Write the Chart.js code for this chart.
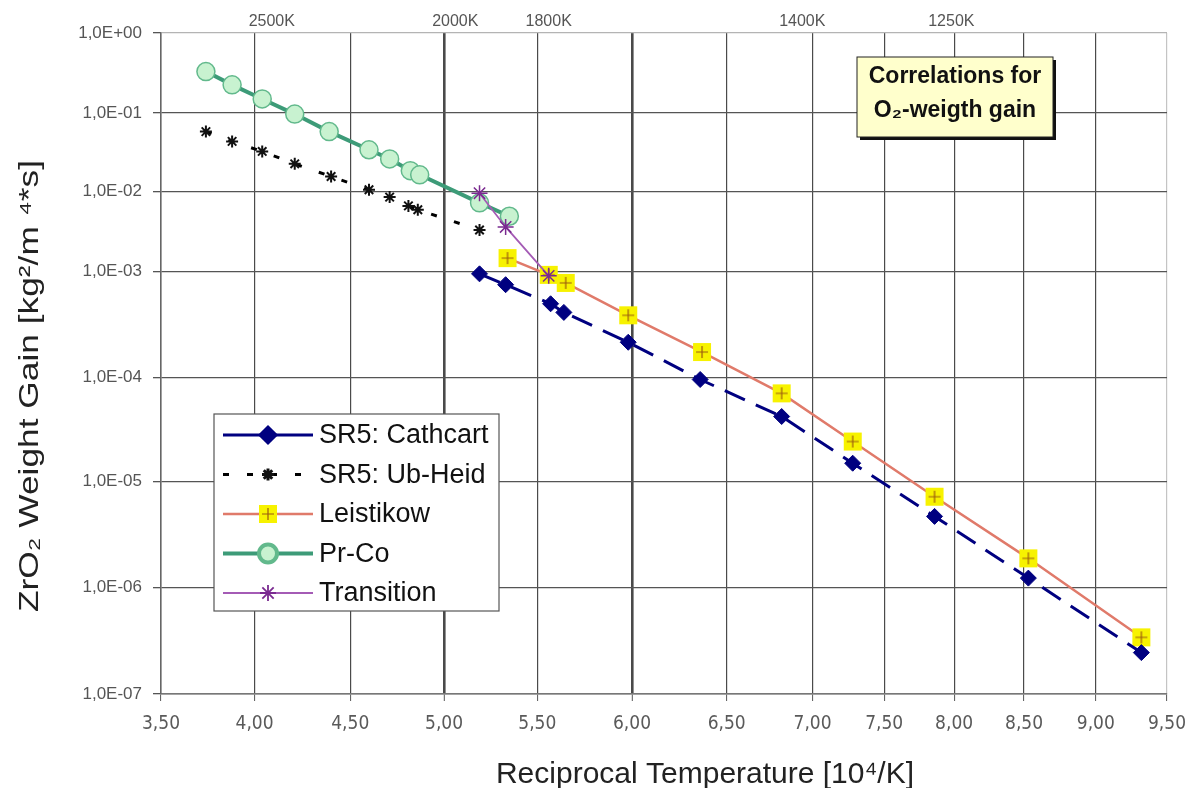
<!DOCTYPE html>
<html>
<head>
<meta charset="utf-8">
<title>ZrO2 weight gain correlations</title>
<script src="https://cdn.jsdelivr.net/npm/chart.js@4.4.0/dist/chart.umd.min.js"></script>
<style>
  html, body { margin: 0; padding: 0; background: #fff; }
  #wrap { width: 1185px; height: 788px; }
</style>
</head>
<body>
<div id="wrap"><canvas id="gainChart" width="1185" height="788"></canvas></div>
<script>
// --- axis ticks ---
const xTickValues = [3.5, 4.0, 4.5, 5.0, 5.5, 6.0, 6.5, 7.0, 7.5, 8.0, 8.5, 9.0, 9.5];
const xTickLabels = ['3,50', '4,00', '4,50', '5,00', '5,50', '6,00', '6,50', '7,00', '7,50', '8,00', '8,50', '9,00', '9,50'];
const yTickValues = [1e-7, 1e-6, 1e-5, 1e-4, 1e-3, 1e-2, 1e-1, 1];
const yTickLabels = ['1,0E-07', '1,0E-06', '1,0E-05', '1,0E-04', '1,0E-03', '1,0E-02', '1,0E-01', '1,0E+00'];
const topTickValues = [4.09, 5.06, 5.56, 6.94, 7.98];
const topTickLabels = ['2500K', '2000K', '1800K', '1400K', '1250K'];

const xTitle = 'Reciprocal Temperature [10⁴/K]';
const yTitle = 'ZrO₂ Weight Gain [kg²/m ⁴*s]';

// --- series (x = 10^4/K, y = kg²/m⁴s) ---
const cathcartX = [5.19, 5.33, 5.57, 5.64, 5.98, 6.36, 6.82, 7.28, 7.86, 8.53, 9.32];
const cathcartY = [9.5e-4, 7.5e-4, 4.95e-4, 4.1e-4, 2.14e-4, 9.5e-5, 4.2e-5, 1.5e-5, 4.7e-6, 1.23e-6, 2.45e-7];

const ubHeidX = [3.74, 3.88, 4.04, 4.21, 4.40, 4.60, 4.71, 4.81, 4.86, 5.19];
const ubHeidY = [0.058, 0.0435, 0.0324, 0.0225, 0.0155, 0.0105, 0.0085, 0.0066, 0.0059, 0.0033];

const leistikowX = [5.34, 5.56, 5.65, 5.98, 6.37, 6.82, 7.28, 7.86, 8.53, 9.32];
const leistikowY = [1.47e-3, 9.3e-4, 7.8e-4, 3.85e-4, 1.73e-4, 7.0e-5, 2.42e-5, 7.2e-6, 1.89e-6, 3.41e-7];

const prCoX = [3.74, 3.88, 4.04, 4.21, 4.39, 4.60, 4.71, 4.82, 4.87, 5.19, 5.35];
const prCoY = [0.33, 0.225, 0.15, 0.097, 0.058, 0.034, 0.026, 0.0184, 0.0163, 0.0072, 0.0049];

const transitionX = [5.19, 5.33, 5.56];
const transitionY = [9.5e-3, 3.6e-3, 9.1e-4];

// The printed grid of the original figure is not evenly spaced:
// where each tick sits, as a fraction of the plot width / height.
const xGridFrac = [0, 0.0930, 0.1881, 0.2814, 0.3741, 0.4682, 0.5623, 0.6477, 0.7189, 0.7884, 0.8579, 0.9292, 1];
const yGridFrac = [0, 0.1609, 0.3213, 0.4793, 0.6392, 0.7603, 0.8789, 1];
const yTickLogs = yTickValues.map(v => Math.log10(v));

function toFrac(v, knots, fracs) {
  let i = 0;
  while (i < knots.length - 2 && v > knots[i + 1]) i++;
  const t = (v - knots[i]) / (knots[i + 1] - knots[i]);
  return fracs[i] + t * (fracs[i + 1] - fracs[i]);
}
function fromFrac(d, knots, fracs) {
  let i = 0;
  while (i < fracs.length - 2 && d > fracs[i + 1]) i++;
  const t = (d - fracs[i]) / (fracs[i + 1] - fracs[i]);
  return knots[i] + t * (knots[i + 1] - knots[i]);
}

class GridLinearScale extends Chart.LinearScale {
  getPixelForValue(value) {
    if (value === null || value === undefined) return NaN;
    return this.getPixelForDecimal(toFrac(value, xTickValues, xGridFrac));
  }
  getValueForPixel(pixel) {
    return fromFrac(this.getDecimalForPixel(pixel), xTickValues, xGridFrac);
  }
}
GridLinearScale.id = 'gridLinear';

class GridLogScale extends Chart.LogarithmicScale {
  getPixelForValue(value) {
    if (value === null || value === undefined || value <= 0) return NaN;
    return this.getPixelForDecimal(toFrac(Math.log10(value), yTickLogs, yGridFrac));
  }
  getValueForPixel(pixel) {
    return Math.pow(10, fromFrac(this.getDecimalForPixel(pixel), yTickLogs, yGridFrac));
  }
}
GridLogScale.id = 'gridLog';

Chart.register(GridLinearScale, GridLogScale);

const pts = (xs, ys) => xs.map((x, i) => ({ x: x, y: ys[i] }));

// yellow square with a plus, as in the Excel marker
function plusSquare() {
  const c = document.createElement('canvas');
  c.width = 20; c.height = 20;
  const g = c.getContext('2d');
  g.fillStyle = '#f7f200';
  g.fillRect(1, 1, 18, 18);
  g.strokeStyle = '#9a5a10';
  g.lineWidth = 1.2;
  g.beginPath();
  g.moveTo(10, 4); g.lineTo(10, 16);
  g.moveTo(4, 10); g.lineTo(16, 10);
  g.stroke();
  return c;
}

const fontSans = '"Liberation Sans", Arial, sans-serif';
const fontNarrow = '"Liberation Sans Narrow", "DejaVu Sans Condensed", Arial, sans-serif';
Chart.defaults.font.family = fontSans;
Chart.defaults.color = '#555';

const legendPlugin = {
  id: 'boxLegend',
  afterDatasetsDraw(chart) {
    const ctx = chart.ctx;
    const box = { left: 214, top: 414, right: 499, bottom: 611 };
    ctx.save();
    ctx.fillStyle = '#fff';
    ctx.fillRect(box.left, box.top, box.right - box.left, box.bottom - box.top);
    ctx.strokeStyle = '#555';
    ctx.lineWidth = 1.2;
    ctx.strokeRect(box.left, box.top, box.right - box.left, box.bottom - box.top);
    chart.data.datasets.forEach((ds, i) => {
      const y = box.top + 21 + i * 39.5;
      ctx.strokeStyle = ds.borderColor;
      ctx.lineWidth = ds.borderWidth;
      ctx.setLineDash(ds.legendDash || []);
      ctx.beginPath();
      ctx.moveTo(box.left + 9, y);
      ctx.lineTo(box.left + 99, y);
      ctx.stroke();
      ctx.setLineDash([]);
      ctx.fillStyle = ds.pointBackgroundColor;
      ctx.strokeStyle = ds.pointBorderColor;
      Chart.helpers.drawPoint(ctx, {
        pointStyle: ds.pointStyle, radius: ds.pointRadius,
        borderWidth: ds.pointBorderWidth, rotation: 0
      }, box.left + 54, y);
      ctx.fillStyle = '#111';
      ctx.font = '27px ' + fontSans;
      ctx.textBaseline = 'middle';
      ctx.textAlign = 'left';
      ctx.fillText(ds.label, box.left + 105, y + 1);
    });
    ctx.restore();
  }
};

const notePlugin = {
  id: 'noteBox',
  afterDatasetsDraw(chart) {
    const ctx = chart.ctx;
    const l = 857, t = 57, w = 196, h = 80;
    ctx.save();
    ctx.fillStyle = '#111';
    ctx.fillRect(l + 3, t + 3, w, h);
    ctx.fillStyle = '#ffffcc';
    ctx.fillRect(l, t, w, h);
    ctx.strokeStyle = '#222';
    ctx.lineWidth = 1;
    ctx.strokeRect(l, t, w, h);
    ctx.fillStyle = '#111';
    ctx.font = 'bold 23px ' + fontSans;
    ctx.textAlign = 'center';
    ctx.textBaseline = 'middle';
    ctx.fillText('Correlations for', l + w / 2, t + 20);
    ctx.fillText('O₂-weigth gain', l + w / 2, t + 54);
    ctx.restore();
  }
};

// axis titles, placed where the original figure has them
const titlePlugin = {
  id: 'axisTitles',
  afterDraw(chart) {
    const ctx = chart.ctx;
    ctx.save();
    ctx.fillStyle = '#222';
    ctx.font = '30px ' + fontSans;
    ctx.textAlign = 'center';
    ctx.textBaseline = 'alphabetic';
    ctx.fillText(xTitle, 705, 783);
    ctx.font = '28px ' + fontSans;
    const w = ctx.measureText(yTitle).width;
    ctx.translate(30, 386);
    ctx.rotate(-Math.PI / 2);
    ctx.scale(452 / w, 1);
    ctx.textBaseline = 'middle';
    ctx.fillText(yTitle, 0, 0);
    ctx.restore();
  }
};

const noPad = s => { s.paddingLeft = 0; s.paddingRight = 0; s.paddingTop = 0; s.paddingBottom = 0; };

new Chart(document.getElementById('gainChart').getContext('2d'), {
  type: 'line',
  data: {
    datasets: [
      {
        label: 'SR5: Cathcart',
        data: pts(cathcartX, cathcartY),
        borderColor: '#000080', borderWidth: 3, borderDash: [22, 12],
        pointStyle: 'rectRot', pointRadius: 8, pointBackgroundColor: '#000080',
        pointBorderColor: '#000080', pointBorderWidth: 1, order: 1
      },
      {
        label: 'SR5: Ub-Heid',
        data: pts(ubHeidX, ubHeidY),
        borderColor: '#000', borderWidth: 3, borderDash: [6, 18], legendDash: [6, 18],
        pointStyle: 'star', pointRadius: 6, pointBackgroundColor: '#000',
        pointBorderColor: '#111', pointBorderWidth: 2, order: 2
      },
      {
        label: 'Leistikow',
        data: pts(leistikowX, leistikowY),
        borderColor: '#e07a6a', borderWidth: 2.5,
        pointStyle: plusSquare(), pointRadius: 10, pointBackgroundColor: '#f7f200',
        pointBorderColor: '#9a5a10', pointBorderWidth: 0, order: 3
      },
      {
        label: 'Pr-Co',
        data: pts(prCoX, prCoY),
        borderColor: '#3d9b78', borderWidth: 4,
        pointStyle: 'circle', pointRadius: 9, pointBackgroundColor: '#c8f2d0',
        pointBorderColor: '#62b98c', pointBorderWidth: 1.5, order: 4
      },
      {
        label: 'Transition',
        data: pts(transitionX, transitionY),
        borderColor: '#a45bb5', borderWidth: 1.8,
        pointStyle: 'star', pointRadius: 8, pointBackgroundColor: '#7a2a90',
        pointBorderColor: '#7a2a90', pointBorderWidth: 1.5, order: 0
      }
    ]
  },
  options: {
    responsive: false,
    animation: false,
    layout: { padding: { left: 0, right: 18, top: 0, bottom: 0 } },
    plugins: { legend: { display: false }, tooltip: { enabled: false } },
    elements: { line: { tension: 0 } },
    scales: {
      x: {
        type: 'gridLinear', position: 'bottom', min: 3.5, max: 9.5,
        afterBuildTicks: s => { s.ticks = xTickValues.map(v => ({ value: v })); },
        afterFit: s => { s.height = 94; noPad(s); },
        grid: {
          color: ctx => ctx.index === xTickValues.length - 1 ? '#c4c4c4' : '#4a4a4a',
          lineWidth: ctx => (ctx.tick && (ctx.tick.value === 5 || ctx.tick.value === 6)) ? 2.6 : 1.2,
          tickLength: 7, tickColor: '#555', tickWidth: 1
        },
        border: { color: '#777', width: 1.5 },
        ticks: {
          autoSkip: false, maxRotation: 0, padding: 12, color: '#5a5a5a',
          font: { family: fontNarrow, size: 19 },
          callback: (v, i) => xTickLabels[i]
        }
      },
      xTop: {
        type: 'gridLinear', position: 'top', min: 3.5, max: 9.5,
        afterBuildTicks: s => { s.ticks = topTickValues.map(v => ({ value: v })); },
        afterFit: s => { s.height = 33; noPad(s); },
        grid: { display: false, drawTicks: false },
        border: { display: false },
        ticks: {
          autoSkip: false, maxRotation: 0, padding: 2, color: '#555',
          font: { size: 16 },
          callback: (v, i) => topTickLabels[i]
        }
      },
      y: {
        type: 'gridLog', position: 'left', min: 1e-7, max: 1,
        afterBuildTicks: s => { s.ticks = yTickValues.map(v => ({ value: v })); },
        afterFit: s => { s.width = 161; noPad(s); },
        grid: {
          color: ctx => ctx.index === yTickValues.length - 1 ? '#b4b4b4' : '#555',
          lineWidth: 1.3, tickLength: 8, tickColor: '#555'
        },
        border: { color: '#666', width: 1.5 },
        ticks: {
          autoSkip: false, padding: 11, color: '#555',
          font: { size: 17 },
          callback: (v, i) => yTickLabels[i]
        }
      }
    }
  },
  plugins: [legendPlugin, notePlugin, titlePlugin]
});
</script>
</body>
</html>
